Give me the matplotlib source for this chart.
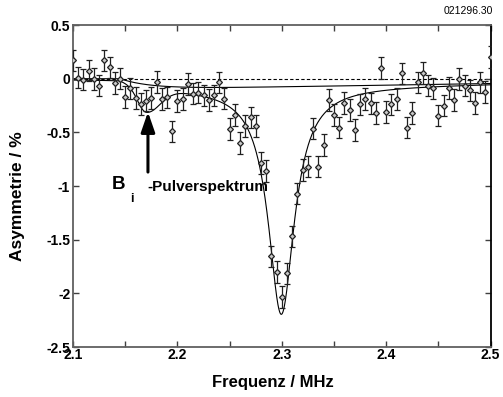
import numpy as np
import matplotlib
matplotlib.use("Agg")
import matplotlib.pyplot as plt

plt.rcParams['font.family'] = ['Liberation Sans', 'DejaVu Sans']
plt.rcParams['axes.unicode_minus'] = False

# ---- measured data ----
freq = [2.100, 2.105, 2.110, 2.115, 2.120, 2.125, 2.130, 2.135, 2.140, 2.145,
        2.150, 2.155, 2.160, 2.165, 2.170, 2.175, 2.180, 2.185, 2.190, 2.195,
        2.200, 2.205, 2.210, 2.215, 2.220, 2.225, 2.230, 2.235, 2.240, 2.245,
        2.250, 2.255, 2.260, 2.265, 2.270, 2.275, 2.280, 2.285, 2.290, 2.295,
        2.300, 2.305, 2.310, 2.315, 2.320, 2.325, 2.330, 2.335, 2.340, 2.345,
        2.350, 2.355, 2.360, 2.365, 2.370, 2.375, 2.380, 2.385, 2.390, 2.395,
        2.400, 2.405, 2.410, 2.415, 2.420, 2.425, 2.430, 2.435, 2.440, 2.445,
        2.450, 2.455, 2.460, 2.465, 2.470, 2.475, 2.480, 2.485, 2.490, 2.495,
        2.500]
asym = [0.17, 0.01, -0.01, 0.075, -0.005, -0.065, 0.17, 0.105, -0.04, 0.00,
        -0.17, -0.09, -0.18, -0.235, -0.205, -0.18, -0.03, -0.19, -0.175, -0.49,
        -0.21, -0.19, -0.05, -0.14, -0.13, -0.155, -0.20, -0.155, -0.035, -0.185,
        -0.47, -0.34, -0.60, -0.44, -0.36, -0.44, -0.785, -0.86, -1.655, -1.80,
        -2.035, -1.815, -1.47, -1.07, -0.85, -0.82, -0.465, -0.82, -0.62, -0.20,
        -0.34, -0.455, -0.225, -0.29, -0.48, -0.24, -0.19, -0.23, -0.32, 0.10,
        -0.31, -0.24, -0.19, 0.05, -0.455, -0.32, -0.035, 0.055, -0.065, -0.09,
        -0.345, -0.25, -0.085, -0.20, -0.005, -0.065, -0.11, -0.225, -0.035, -0.125,
        0.20]
err = [0.10, 0.10, 0.10, 0.10, 0.10, 0.10, 0.10, 0.10, 0.10, 0.10,
       0.10, 0.10, 0.10, 0.10, 0.10, 0.10, 0.10, 0.10, 0.10, 0.10,
       0.10, 0.10, 0.10, 0.10, 0.10, 0.10, 0.10, 0.10, 0.10, 0.10,
       0.10, 0.10, 0.10, 0.10, 0.10, 0.10, 0.10, 0.10, 0.10, 0.10,
       0.10, 0.10, 0.10, 0.10, 0.10, 0.10, 0.10, 0.10, 0.10, 0.10,
       0.10, 0.10, 0.10, 0.10, 0.10, 0.10, 0.10, 0.10, 0.10, 0.10,
       0.10, 0.10, 0.10, 0.10, 0.10, 0.10, 0.10, 0.10, 0.10, 0.10,
       0.10, 0.10, 0.10, 0.10, 0.10, 0.10, 0.10, 0.10, 0.10, 0.10,
       0.10]

# ---- fit parameters ----
main_center, main_depth, main_hwhm = 2.2995, 2.12, 0.0152
bg_onset, bg_height, bg_rise, bg_slope = 2.145, 0.10, 0.03, 1.55
pw_center, pw_depth, pw_sig_left, pw_sig_right = 2.170, 0.23, 0.008, 0.013

xticks = [2.1, 2.2, 2.3, 2.4, 2.5]
xtick_labels = ["2.1", "2.2", "2.3", "2.4", "2.5"]
yticks = [0.5, 0, -0.5, -1, -1.5, -2, -2.5]
ytick_labels = ["0.5", "0", "-0.5", "-1", "-1.5", "-2", "-2.5"]


def background(f):
    d = np.clip(f - bg_onset, 0, None)
    return -bg_height * (1 - np.exp(-d / bg_rise)) * (1 - bg_slope * d)


def powder(f):
    sig = np.where(f < pw_center, pw_sig_left, pw_sig_right)
    s = -pw_depth * np.exp(-0.5 * ((f - pw_center) / sig) ** 2)
    return np.where(f < bg_onset, 0.0, s)


def main_line(f):
    return -main_depth / (1 + ((f - main_center) / main_hwhm) ** 2)


fig = plt.figure(figsize=(5.03, 3.97), dpi=100)
ax = fig.add_axes([0.1451, 0.1259, 0.8304, 0.8111])

ff = np.linspace(2.1, 2.5, 2000)
ax.axhline(0, color='black', lw=0.8, dashes=(3, 2), zorder=1)
ax.plot(ff, background(ff), color='black', lw=0.8, zorder=2)
ax.plot(ff, background(ff) + powder(ff) + main_line(ff), color='black', lw=0.8, zorder=2)

ax.errorbar(freq, asym, yerr=err, fmt='D', ms=3.0, mfc='#c8c8c8', mec='#202020',
            mew=0.9, ecolor='#202020', elinewidth=0.9, capsize=2.2, capthick=0.9, zorder=3)

ax.set_xlim(2.1, 2.5)
ax.set_ylim(-2.5, 0.5)
ax.set_xticks(xticks)
ax.set_xticklabels(xtick_labels, fontsize=10, fontweight='bold')
ax.set_xticks([2.15, 2.25, 2.35, 2.45], minor=True)
ax.set_yticks(yticks)
ax.set_yticklabels(ytick_labels, fontsize=10, fontweight='bold')
ax.tick_params(which='both', direction='in', top=True, right=True, length=4, width=1,
               color='#404040')
ax.tick_params(axis='x', which='major', pad=1)
ax.tick_params(axis='y', which='major', pad=2)

for side in ['left', 'bottom', 'top']:
    ax.spines[side].set_color('#606060')
    ax.spines[side].set_linewidth(1.3)
ax.spines['right'].set_color('black')
ax.spines['right'].set_linewidth(1.3)

ax.set_xlabel('Frequenz / MHz', fontsize=12, fontweight='bold')
ax.xaxis.set_label_coords(0.4776, -0.088)
ax.set_ylabel('Asymmetrie / %', fontsize=12.5, fontweight='bold')
ax.yaxis.set_label_coords(-0.114, 0.47)

# annotation
ax.annotate('', xy=(2.1718, -0.31), xytext=(2.1718, -0.87),
            arrowprops=dict(arrowstyle='-|>,head_length=1.1,head_width=0.38',
                            lw=2.2, color='black', mutation_scale=11, shrinkA=0, shrinkB=0))
ax.text(2.1375, -0.99, 'B', fontsize=13.5, fontweight='bold', ha='left', va='center')
ax.text(2.1545, -1.12, 'i', fontsize=9, fontweight='bold', ha='left', va='center')
ax.text(2.1715, -1.01, '-Pulverspektrum', fontsize=11, fontweight='bold',
        ha='left', va='center')

fig.text(0.981, 0.972, '021296.30', fontsize=7.5, ha='right', va='center')

fig.savefig('out.png', dpi=100)
